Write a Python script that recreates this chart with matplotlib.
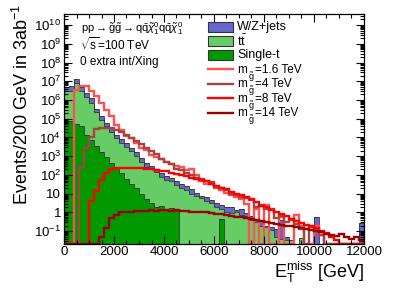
import numpy as np
import matplotlib.pyplot as plt
from matplotlib.patches import Rectangle
from matplotlib.ticker import MultipleLocator, LogLocator, FuncFormatter

plt.rcParams['font.family'] = ['Liberation Sans', 'DejaVu Sans']
plt.rcParams['mathtext.fontset'] = 'custom'
plt.rcParams['mathtext.rm'] = 'Liberation Sans'
plt.rcParams['mathtext.it'] = 'Liberation Sans:italic'
plt.rcParams['mathtext.bf'] = 'Liberation Sans:bold'

# 60 bins of 200 GeV from 0 to 12000 GeV
edges = np.arange(0, 12001, 200)

# background stack, read as stack tops (events per bin)
total_top = [
    5.0e6, 5.6e6, 1.3e7, 5.0e6, 2.3e6, 1.3e6, 3.5e5, 1.4e5, 6.3e4, 3.2e4,
    1.4e4, 8.0e3, 5.0e3, 2.8e3, 1.6e3, 800, 450, 320, 220, 125,
    89, 71, 45, 32, 25, 17, 11, 7.9, 6.3, 4.5,
    3.2, 2.5, 1.9, 2.0, 1.35, 1.6, 0.89, 0.63, 0.45, 0.40,
    0.18, 0.16, 0.13, 0.40, 0.05, 0.032, 0, 0.045, 0, 0,
    0.60, 0, 0, 0, 0, 0, 0, 0, 0, 0.27]
ttbar_top = [
    3.2e6, 3.2e6, 7.9e6, 3.2e6, 1.4e6, 7.1e5, 2.2e5, 8.9e4, 4.0e4, 2.0e4,
    8.9e3, 5.0e3, 3.2e3, 1.8e3, 1.0e3, 500, 280, 200, 140, 79,
    56, 45, 28, 20, 16, 10, 7.1, 5.6, 4.0, 3.2,
    2.0, 1.6, 1.1, 0.89, 1.0, 0.71, 0.63, 0.40, 0.32, 0.20,
    0.17, 0.11, 0.05, 0.04, 0.032, 0.032, 0, 0.045, 0, 0,
    0, 0, 0, 0, 0, 0, 0, 0, 0, 0]
single_t = [
    8.0e4, 8.0e4, 5.0e4, 4.0e4, 1.3e4, 7.1e3, 3.5e3, 1.6e3, 890, 450,
    250, 130, 63, 35, 20, 10, 5.0, 3.2, 2.0, 2.2,
    1.6, 1.8, 1.3, 0, 0, 0, 0, 0, 0, 0,
    0, 0.44, 0, 0, 0, 0, 0, 0, 0, 0,
    0, 0, 0, 0, 0, 0, 0, 0, 0, 0,
    0, 0, 0, 0, 0, 0, 0, 0, 0, 0]

# gluino signals
sig_1p6 = [
    0, 0, 3.4e6, 5.6e6, 5.6e6, 3.2e6, 1.6e6, 6.9e5, 3.0e5, 1.35e5,
    4.8e4, 2.6e4, 1.15e4, 9.3e3, 5.1e3, 2.75e3, 2.2e3, 1.2e3, 890, 710,
    500, 400, 320, 280, 180, 200, 100, 50, 35, 32,
    20, 16, 11, 8.9, 6.3, 5.0, 2.8, 0, 1.6, 0,
    2.5, 0, 0, 0.6, 0, 0, 0.7, 0.2, 0, 0,
    0.19, 0.06, 0, 0, 0, 0, 0, 0, 0, 0]
sig_4 = [
    0, 0, 0, 280, 2.8e3, 1.0e4, 2.8e4, 3.2e4, 3.3e4, 3.2e4,
    2.6e4, 2.0e4, 1.3e4, 8.9e3, 6.3e3, 4.5e3, 2.8e3, 2.0e3, 1.26e3, 710,
    520, 400, 220, 180, 126, 100, 71, 63, 50, 44,
    24, 20, 16, 10, 8.9, 6.3, 5.6, 4.7, 2.0, 2.5,
    1.5, 1.5, 0.5, 0.63, 0.32, 0.4, 0.25, 0.13, 0, 0.16,
    0.1, 0.063, 0, 0, 0, 0, 0, 0, 0, 0]
sig_8 = [
    0, 0, 0, 0, 0, 4.0, 14, 56, 126, 200,
    230, 240, 235, 230, 224, 224, 210, 200, 186, 166,
    158, 132, 112, 100, 89, 71, 63, 54, 45, 35,
    26, 21, 17, 13, 10, 8.5, 6.8, 5.0, 3.5, 2.2,
    2.0, 1.4, 1.1, 0.8, 0.63, 0.45, 0.35, 0.28, 0.22, 0.18,
    0.14, 0.1, 0.08, 0.05, 0.032, 0, 0, 0, 0, 0]
sig_14 = [
    0, 0, 0, 0, 0, 0, 0, 0.05, 0.15, 0.49,
    0.74, 1.0, 1.1, 1.1, 1.25, 1.2, 1.25, 1.3, 1.25, 1.35,
    1.3, 1.25, 1.3, 1.25, 1.2, 1.1, 1.1, 1.0, 1.0, 0.9,
    0.83, 0.8, 0.7, 0.63, 0.6, 0.56, 0.5, 0.45, 0.4, 0.35,
    0.32, 0.28, 0.25, 0.22, 0.2, 0.18, 0.16, 0.14, 0.13, 0.11,
    0.1, 0.09, 0.07, 0.063, 0.056, 0.07, 0.05, 0.04, 0.05, 0.035]

bkg_labels = ['W/Z+jets', r't$\bar{\mathrm{t}}$', 'Single-t']
signal_masses = ['1.6', '4', '8', '14']
signal_colors = ['#ff4f4f', '#a64444', '#ff0000', '#9c0000']

c_wz, c_tt, c_st = '#6666cc', '#66cc66', '#009900'
ymin, ymax = 0.022, 3.9e10

W, H = 405, 291
fig = plt.figure(figsize=(W / 100, H / 100), dpi=100)
ax = fig.add_axes([64 / W, 1 - 243.5 / H, 300 / W, 229.5 / H])

floor = 1e-4
for vals, col in [(total_top, c_wz), (ttbar_top, c_tt), (single_t, c_st)]:
    v = np.array(vals, dtype=float)
    v = np.where(v > 0, v, floor)
    ax.stairs(v, edges, baseline=floor, fill=True, color=col, lw=0)
    ax.stairs(v, edges, baseline=floor, fill=False, color='#333333', lw=0.6)

for vals, col in zip([sig_1p6, sig_4, sig_8, sig_14], signal_colors):
    v = np.array(vals, dtype=float)
    v = np.where(v > 0, v, ymin)
    ax.stairs(v, edges, baseline=None, color=col, lw=1.7)

ax.set_yscale('log')
ax.set_xlim(0, 12000)
ax.set_ylim(ymin, ymax)

ax.xaxis.set_major_locator(MultipleLocator(2000))
ax.xaxis.set_minor_locator(MultipleLocator(500))
ax.yaxis.set_major_locator(LogLocator(base=10, numticks=30))
ax.yaxis.set_minor_locator(LogLocator(base=10, subs=np.arange(2, 10), numticks=30))


def log_label(v, pos):
    e = int(round(np.log10(v)))
    if e == 0:
        return '1'
    if e == 1:
        return '10'
    return r'10$^{%d}$' % e


ax.yaxis.set_major_formatter(FuncFormatter(log_label))
ax.tick_params(which='both', direction='in', top=True, right=True, width=0.8,
               labelsize=9.5)
ax.tick_params(which='major', length=6, pad=2)
ax.tick_params(which='minor', length=3)
for s in ax.spines.values():
    s.set_linewidth(0.9)


# legend drawn by hand, positions in figure pixels
def fx(px):
    return px / W


def fy(py):
    return 1 - py / H


bkg_rows = [27, 41.2, 55.4]
sig_rows = [69.4, 83.8, 98.2, 112.6]
for py, lab, col in zip(bkg_rows, bkg_labels, [c_wz, c_tt, c_st]):
    fig.patches.append(Rectangle((fx(208), fy(py + 5)), 25 / W, 10 / H,
                                 transform=fig.transFigure, facecolor=col,
                                 edgecolor='#333333', lw=0.8))
    fig.text(fx(237), fy(py), lab, fontsize=9, va='center')
for py, mass, col in zip(sig_rows, signal_masses, signal_colors):
    fig.lines.append(plt.Line2D([fx(208), fx(233)], [fy(py), fy(py)],
                                transform=fig.transFigure, color=col, lw=1.7))
    # m with a g-tilde subscript, then the mass value
    fig.text(fx(237), fy(py + 3.5), 'm', fontsize=8.5, va='baseline')
    fig.text(fx(248), fy(py + 7.5), r'$\tilde{\mathrm{g}}$', fontsize=6.5,
             va='center')
    fig.text(fx(254.5), fy(py + 3.5), '=%s TeV' % mass, fontsize=8.5,
             va='baseline')

fig.text(fx(81), fy(29), r'pp$\rightarrow\tilde{\mathrm{g}}\tilde{\mathrm{g}}\rightarrow$'
         r'q$\bar{\mathrm{q}}\tilde{\chi}^0_1$q$\bar{\mathrm{q}}\tilde{\chi}^0_1$',
         fontsize=8, va='center')
fig.text(fx(80), fy(45), r'$\sqrt{\mathrm{s}}$=100 TeV', fontsize=8.5, va='center')
fig.text(fx(80), fy(62.5), '0 extra int/Xing', fontsize=8.5, va='center')

fig.text(fx(22), fy(4), r'Events/200 GeV in 3ab$^{-1}$', rotation=90,
         ha='center', va='top', fontsize=13)
fig.text(fx(364), fy(272), r'E$_{\mathrm{T}}^{\mathrm{miss}}$ [GeV]',
         ha='right', va='center', fontsize=13)

fig.savefig('out.png', dpi=100)
